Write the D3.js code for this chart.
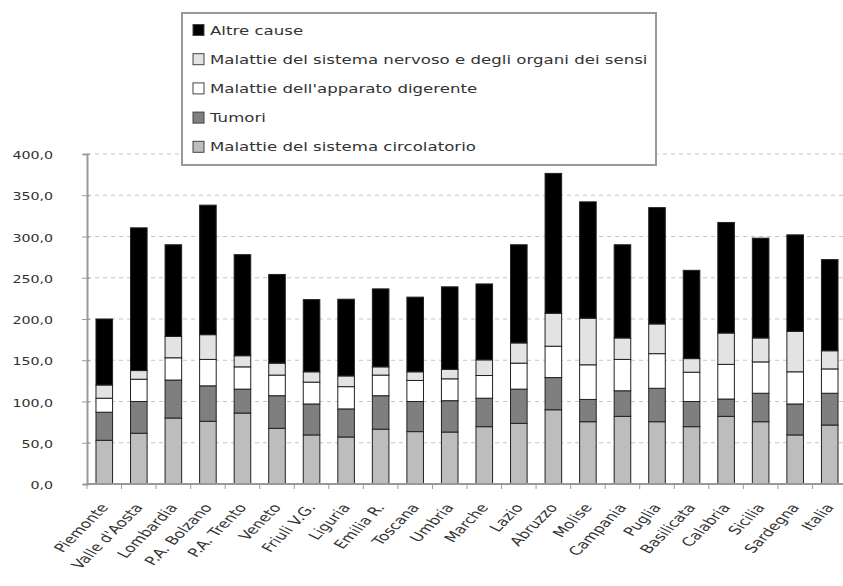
<!DOCTYPE html>
<html>
<head>
<meta charset="utf-8">
<script src="https://cdn.jsdelivr.net/npm/d3@7"></script>
<style>
    body { margin: 0; background: #fff; }
    text { font-family: "DejaVu Sans", Verdana, sans-serif; fill: #333; }
</style>
</head>
<body>
<div id="chart"></div>
<script>

// regions on the x axis
const regioni = ["Piemonte", "Valle d'Aosta", "Lombardia", "P.A. Bolzano", "P.A. Trento", "Veneto",
    "Friuli V.G.", "Liguria", "Emilia R.", "Toscana", "Umbria", "Marche", "Lazio", "Abruzzo",
    "Molise", "Campania", "Puglia", "Basilicata", "Calabria", "Sicilia", "Sardegna", "Italia"];

// series values
const circolatorio = [53, 61.5, 80, 76, 86, 67.5, 59.5, 57, 66.5, 63.5, 63, 69.5, 73.5, 90, 75.5, 82, 75.5, 69.5, 82, 75.5, 59.5, 71.5];
const tumori       = [34, 38.5, 46, 43, 29, 39.5, 37.5, 34, 40.5, 36.5, 38, 34.5, 41.5, 39, 27, 31, 40.5, 30.5, 21, 34.5, 37.5, 38.5];
const digerente    = [17, 27, 27, 32, 27, 25, 26.5, 27, 25, 25.5, 26.5, 27.5, 31.5, 38, 42, 38, 42, 35.5, 42, 38, 39, 29.5];
const nervoso      = [16, 10.5, 26, 30, 13.5, 14.5, 12.5, 13, 10, 10.5, 11.5, 19, 24.5, 40, 56.5, 26, 36, 16.5, 38, 29, 49, 22];
const altre        = [80, 173, 111, 157, 122.5, 107.5, 87.5, 93, 94.5, 90.5, 100, 92, 119, 169.5, 141, 113, 141, 107, 134, 121, 117, 110.5];

const yTicks = [0, 50, 100, 150, 200, 250, 300, 350, 400];

// series definitions, stacking order bottom -> top
const serie = [
    {key: "circolatorio", label: "Malattie del sistema circolatorio", values: circolatorio, color: "#bdbdbd"},
    {key: "tumori", label: "Tumori", values: tumori, color: "#7f7f7f"},
    {key: "digerente", label: "Malattie dell'apparato digerente", values: digerente, color: "#ffffff"},
    {key: "nervoso", label: "Malattie del sistema nervoso e degli organi dei sensi", values: nervoso, color: "#e3e3e3"},
    {key: "altre", label: "Altre cause", values: altre, color: "#000000"}
];

// the original picture is stretched horizontally, text too
const stretch = 1.42;
const legendStretch = 1.385;

let table = regioni.map((r, i) => {
    let row = {regione: r};
    serie.forEach(s => row[s.key] = s.values[i]);
    return row;
});

let margin = {top: 154, right: -4, bottom: 102, left: 87};
let width = 843 - margin.left - margin.right;
let height = 586 - margin.top - margin.bottom;

let svg = d3.select("#chart").append("svg")
    .attr("width", 843)
    .attr("height", 586)
    .append("g")
    .attr("transform", "translate(" + margin.left + "," + margin.top + ")");

let x = d3.scaleBand()
    .domain(regioni)
    .range([0, width])
    .paddingInner(0.52)
    .paddingOuter(0.26);

let y = d3.scaleLinear()
    .domain([0, 400])
    .range([height, 0]);

// gridlines
svg.append("g")
    .selectAll("line")
    .data(yTicks.filter(d => d > 0))
    .join("line")
    .attr("x1", 0)
    .attr("x2", width)
    .attr("y1", d => y(d))
    .attr("y2", d => y(d))
    .attr("stroke", "#c4c4c4")
    .attr("stroke-dasharray", "4,4");

// bars
let stack = d3.stack().keys(serie.map(s => s.key));
let stacked = stack(table);
let colorOf = d3.scaleOrdinal().domain(serie.map(s => s.key)).range(serie.map(s => s.color));

svg.selectAll("g.series")
    .data(stacked)
    .join("g")
    .attr("class", "series")
    .attr("fill", d => colorOf(d.key))
    .selectAll("rect")
    .data(d => d)
    .join("rect")
    .attr("x", d => x(d.data.regione))
    .attr("y", d => y(d[1]))
    .attr("height", d => y(d[0]) - y(d[1]))
    .attr("width", x.bandwidth())
    .attr("stroke", "#222")
    .attr("stroke-width", 1);

// y axis
let yAxis = d3.axisLeft(y)
    .tickValues(yTicks)
    .tickSize(4)
    .tickFormat(d => d3.format(".1f")(d).replace(".", ","));

let yg = svg.append("g").call(yAxis);
yg.select(".domain").attr("stroke", "#999").attr("stroke-width", 2);
yg.selectAll(".tick line").attr("stroke", "#999").attr("x2", 3).attr("x1", -5);
yg.selectAll(".tick text")
    .attr("x", 0)
    .attr("dy", "0.45em")
    .attr("font-size", "10px")
    .attr("fill", "#444")
    .attr("transform", "translate(-34,0) scale(" + stretch + ",1)");

// x axis
let step = x.step();
let xg = svg.append("g").attr("transform", "translate(0," + height + ")");
xg.append("line")
    .attr("x1", 0).attr("x2", width)
    .attr("stroke", "#999").attr("stroke-width", 2);
xg.selectAll("line.tk")
    .data(regioni)
    .join("line")
    .attr("class", "tk")
    .attr("x1", d => x(d) - (step - x.bandwidth()) / 2)
    .attr("x2", d => x(d) - (step - x.bandwidth()) / 2)
    .attr("y1", 0).attr("y2", 5)
    .attr("stroke", "#999");
xg.selectAll("text")
    .data(regioni)
    .join("text")
    .attr("text-anchor", "end")
    .attr("font-size", "12px")
    .attr("fill", "#444")
    .attr("dy", "0.35em")
    .attr("transform", d => "translate(" + (x(d) + x.bandwidth() / 2) + ",21) scale(" + stretch + ",1) rotate(-54.5)")
    .text(d => d);

// legend
let legend = d3.select("svg").append("g").attr("transform", "translate(182,13)");
legend.append("rect")
    .attr("width", 474).attr("height", 152)
    .attr("fill", "#fff")
    .attr("stroke", "#999").attr("stroke-width", 2);

let legendItems = serie.slice().reverse();
let li = legend.selectAll("g.item")
    .data(legendItems)
    .join("g")
    .attr("class", "item")
    .attr("transform", (d, i) => "translate(11," + (17 + i * 29.2) + ")");
li.append("rect")
    .attr("x", 0).attr("y", -5.5)
    .attr("width", 11).attr("height", 11)
    .attr("fill", d => d.color)
    .attr("stroke", "#444");
li.append("text")
    .attr("x", 0).attr("y", 4.5)
    .attr("font-size", "12px")
    .attr("fill", "#333")
    .attr("transform", "translate(17,0) scale(" + legendStretch + ",1)")
    .text(d => d.label);

</script>
</body>
</html>
